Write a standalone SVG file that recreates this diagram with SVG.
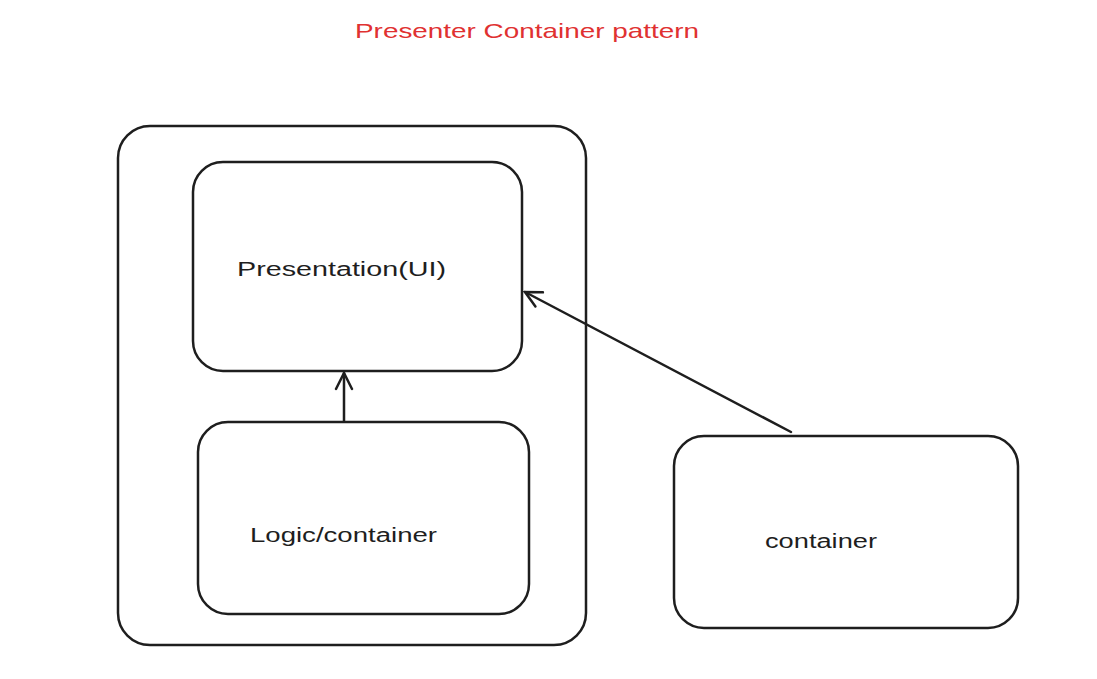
<svg xmlns="http://www.w3.org/2000/svg" width="1097" height="679" viewBox="0 0 1097 679">
<style>
.box{fill:none;stroke:#1e1e1e;stroke-width:2.5}
.lbl{font-family:"Liberation Sans",Arial,sans-serif;font-size:20px;fill:#1e1e1e}
.title{font-family:"Liberation Sans",Arial,sans-serif;font-size:21px;fill:#e03131}
.conn{fill:none;stroke:#1e1e1e;stroke-width:2.5;stroke-linecap:round}
</style>
<defs>
<marker id="arr" viewBox="0 0 20 20" refX="18" refY="10" markerWidth="20" markerHeight="20" markerUnits="userSpaceOnUse" orient="auto">
<path d="M2,2 L18,10 L2,18" fill="none" stroke="#1e1e1e" stroke-width="2.5" stroke-linecap="round"/>
</marker>
</defs>
<rect width="1097" height="679" fill="#ffffff"/>
<text class="title" x="355" y="38" textLength="344" lengthAdjust="spacingAndGlyphs">Presenter Container pattern</text>
<g id="outer"><rect class="box" x="118" y="126" width="468" height="519" rx="32"/></g>
<g id="presentation"><rect class="box" x="193" y="162" width="329" height="209" rx="30"/>
<text class="lbl" x="237" y="276" textLength="209" lengthAdjust="spacingAndGlyphs">Presentation(UI)</text></g>
<g id="logic"><rect class="box" x="198" y="422" width="331" height="192" rx="30"/>
<text class="lbl" x="250" y="542" textLength="187" lengthAdjust="spacingAndGlyphs">Logic/container</text></g>
<g id="container"><rect class="box" x="674" y="436" width="344" height="192" rx="30"/>
<text class="lbl" x="765" y="548" textLength="112" lengthAdjust="spacingAndGlyphs">container</text></g>
<g id="connectors">
<line class="conn" x1="344" y1="421" x2="344" y2="373" marker-end="url(#arr)"/>
<line class="conn" x1="791" y1="432" x2="525" y2="292" marker-end="url(#arr)"/>
</g>
</svg>
